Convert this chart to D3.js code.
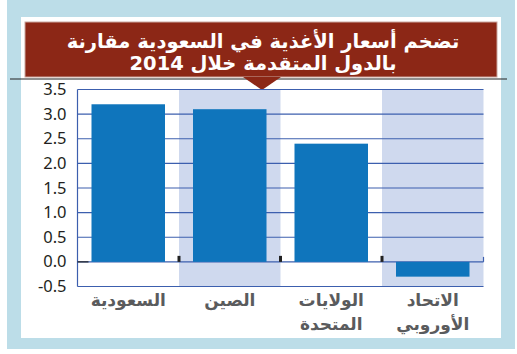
<!DOCTYPE html>
<html>
<head>
<meta charset="utf-8">
<script src="https://cdn.jsdelivr.net/npm/d3@7"></script>
<style>
  body { margin: 0; background: #fff; }
</style>
</head>
<body>
<div id="chart"></div>
<script>
var titleLines = ["تضخم أسعار الأغذية في السعودية مقارنة", "بالدول المتقدمة خلال 2014"];
var categories = ["السعودية", "الصين", "الولايات المتحدة", "الاتحاد الأوروبي"];
var labelLines = [["السعودية"], ["الصين"], ["الولايات", "المتحدة"], ["الاتحاد", "الأوروبي"]];
var values = [3.2, 3.1, 2.4, -0.3];
var yTicks = [-0.5, 0, 0.5, 1, 1.5, 2, 2.5, 3, 3.5];

var W = 517, H = 354;
var svg = d3.select("#chart").append("svg")
  .attr("width", W).attr("height", H);

// frame
svg.append("rect").attr("x", 7).attr("y", 0).attr("width", 508).attr("height", 349).attr("fill", "#bcdde8");
svg.append("rect").attr("x", 21).attr("y", 17).attr("width", 480).attr("height", 321).attr("fill", "#fff");

// title box
svg.append("rect").attr("x", 25).attr("y", 22).attr("width", 472).attr("height", 55)
  .attr("fill", "#8c2716").attr("stroke", "#c9a79f").attr("stroke-width", 1);
svg.append("line").attr("x1", 10).attr("x2", 507).attr("y1", 79).attr("y2", 79)
  .attr("stroke", "#222").attr("stroke-width", 1.2);
svg.append("path").attr("d", "M243,77 L281,77 L262,90 Z").attr("fill", "#8c2716");

svg.selectAll(".title").data(titleLines).enter().append("text")
  .attr("x", 263).attr("y", function(d, i) { return 48 + i * 22; })
  .attr("text-anchor", "middle").attr("direction", "rtl")
  .attr("fill", "#fff").attr("font-family", "DejaVu Sans").attr("font-weight", "bold")
  .attr("font-size", "19.5px")
  .text(function(d) { return d; });

var margin = {left: 77.5, top: 89.5},
    width = 406, height = 197;

var g = svg.append("g").attr("transform", "translate(" + margin.left + "," + margin.top + ")");

var x = d3.scaleBand().domain(categories).range([0, width]).paddingInner(0).paddingOuter(0);
var y = d3.scaleLinear().domain([-0.5, 3.5]).range([height, 0]);

// alternate bands
g.selectAll(".band").data(categories.filter(function(d, i) { return i % 2 == 1; }))
  .enter().append("rect")
  .attr("x", function(d) { return x(d); }).attr("y", 0)
  .attr("width", x.bandwidth()).attr("height", height)
  .attr("fill", "#cfd9ee");

// grid
g.selectAll(".grid").data(yTicks).enter().append("line")
  .attr("x1", 0).attr("x2", width)
  .attr("y1", function(d) { return y(d); }).attr("y2", function(d) { return y(d); })
  .attr("stroke", "#3c5fae").attr("stroke-width", 1.2);
g.append("line").attr("x1", 0).attr("x2", 0).attr("y1", 0).attr("y2", height)
  .attr("stroke", "#3c5fae").attr("stroke-width", 1.2);
g.append("line").attr("x1", width).attr("x2", width).attr("y1", y(0) - 5).attr("y2", y(0))
  .attr("stroke", "#3c5fae").attr("stroke-width", 1.2);

// bars
var barPad = 14;
g.selectAll(".bar").data(values).enter().append("rect")
  .attr("x", function(d, i) { return x(categories[i]) + barPad; })
  .attr("width", x.bandwidth() - 2 * barPad)
  .attr("y", function(d) { return y(Math.max(0, d)); })
  .attr("height", function(d) { return Math.abs(y(d) - y(0)); })
  .attr("fill", "#0f75bc");

// zero ticks
g.append("line").attr("x1", 0).attr("x2", 11).attr("y1", y(0)).attr("y2", y(0))
  .attr("stroke", "#222").attr("stroke-width", 1.2);
g.selectAll(".ztick").data(categories.slice(1)).enter().append("rect")
  .attr("x", function(d) { return x(d) - 1.5; }).attr("y", y(0) - 6)
  .attr("width", 3).attr("height", 6).attr("fill", "#222");

// y labels
g.selectAll(".ylab").data(yTicks).enter().append("text")
  .attr("x", -11).attr("y", function(d) { return y(d) + 5.5; })
  .attr("text-anchor", "end").attr("font-family", "Noto Sans").attr("font-size", "16.5px")
  .attr("fill", "#231f20")
  .text(function(d) { return d3.format(".1f")(d).replace("−", "-"); });

// x labels
labelLines.forEach(function(lines, i) {
  g.selectAll(".xl" + i).data(lines).enter().append("text")
    .attr("x", x(categories[i]) + x.bandwidth() / 2)
    .attr("y", function(d, j) { return height + 19 + j * 24; })
    .attr("text-anchor", "middle").attr("direction", "rtl")
    .attr("font-family", "DejaVu Sans").attr("font-weight", "bold").attr("font-size", "17px")
    .attr("fill", "#5a5b5d")
    .text(function(d) { return d; });
});
</script>
</body>
</html>
